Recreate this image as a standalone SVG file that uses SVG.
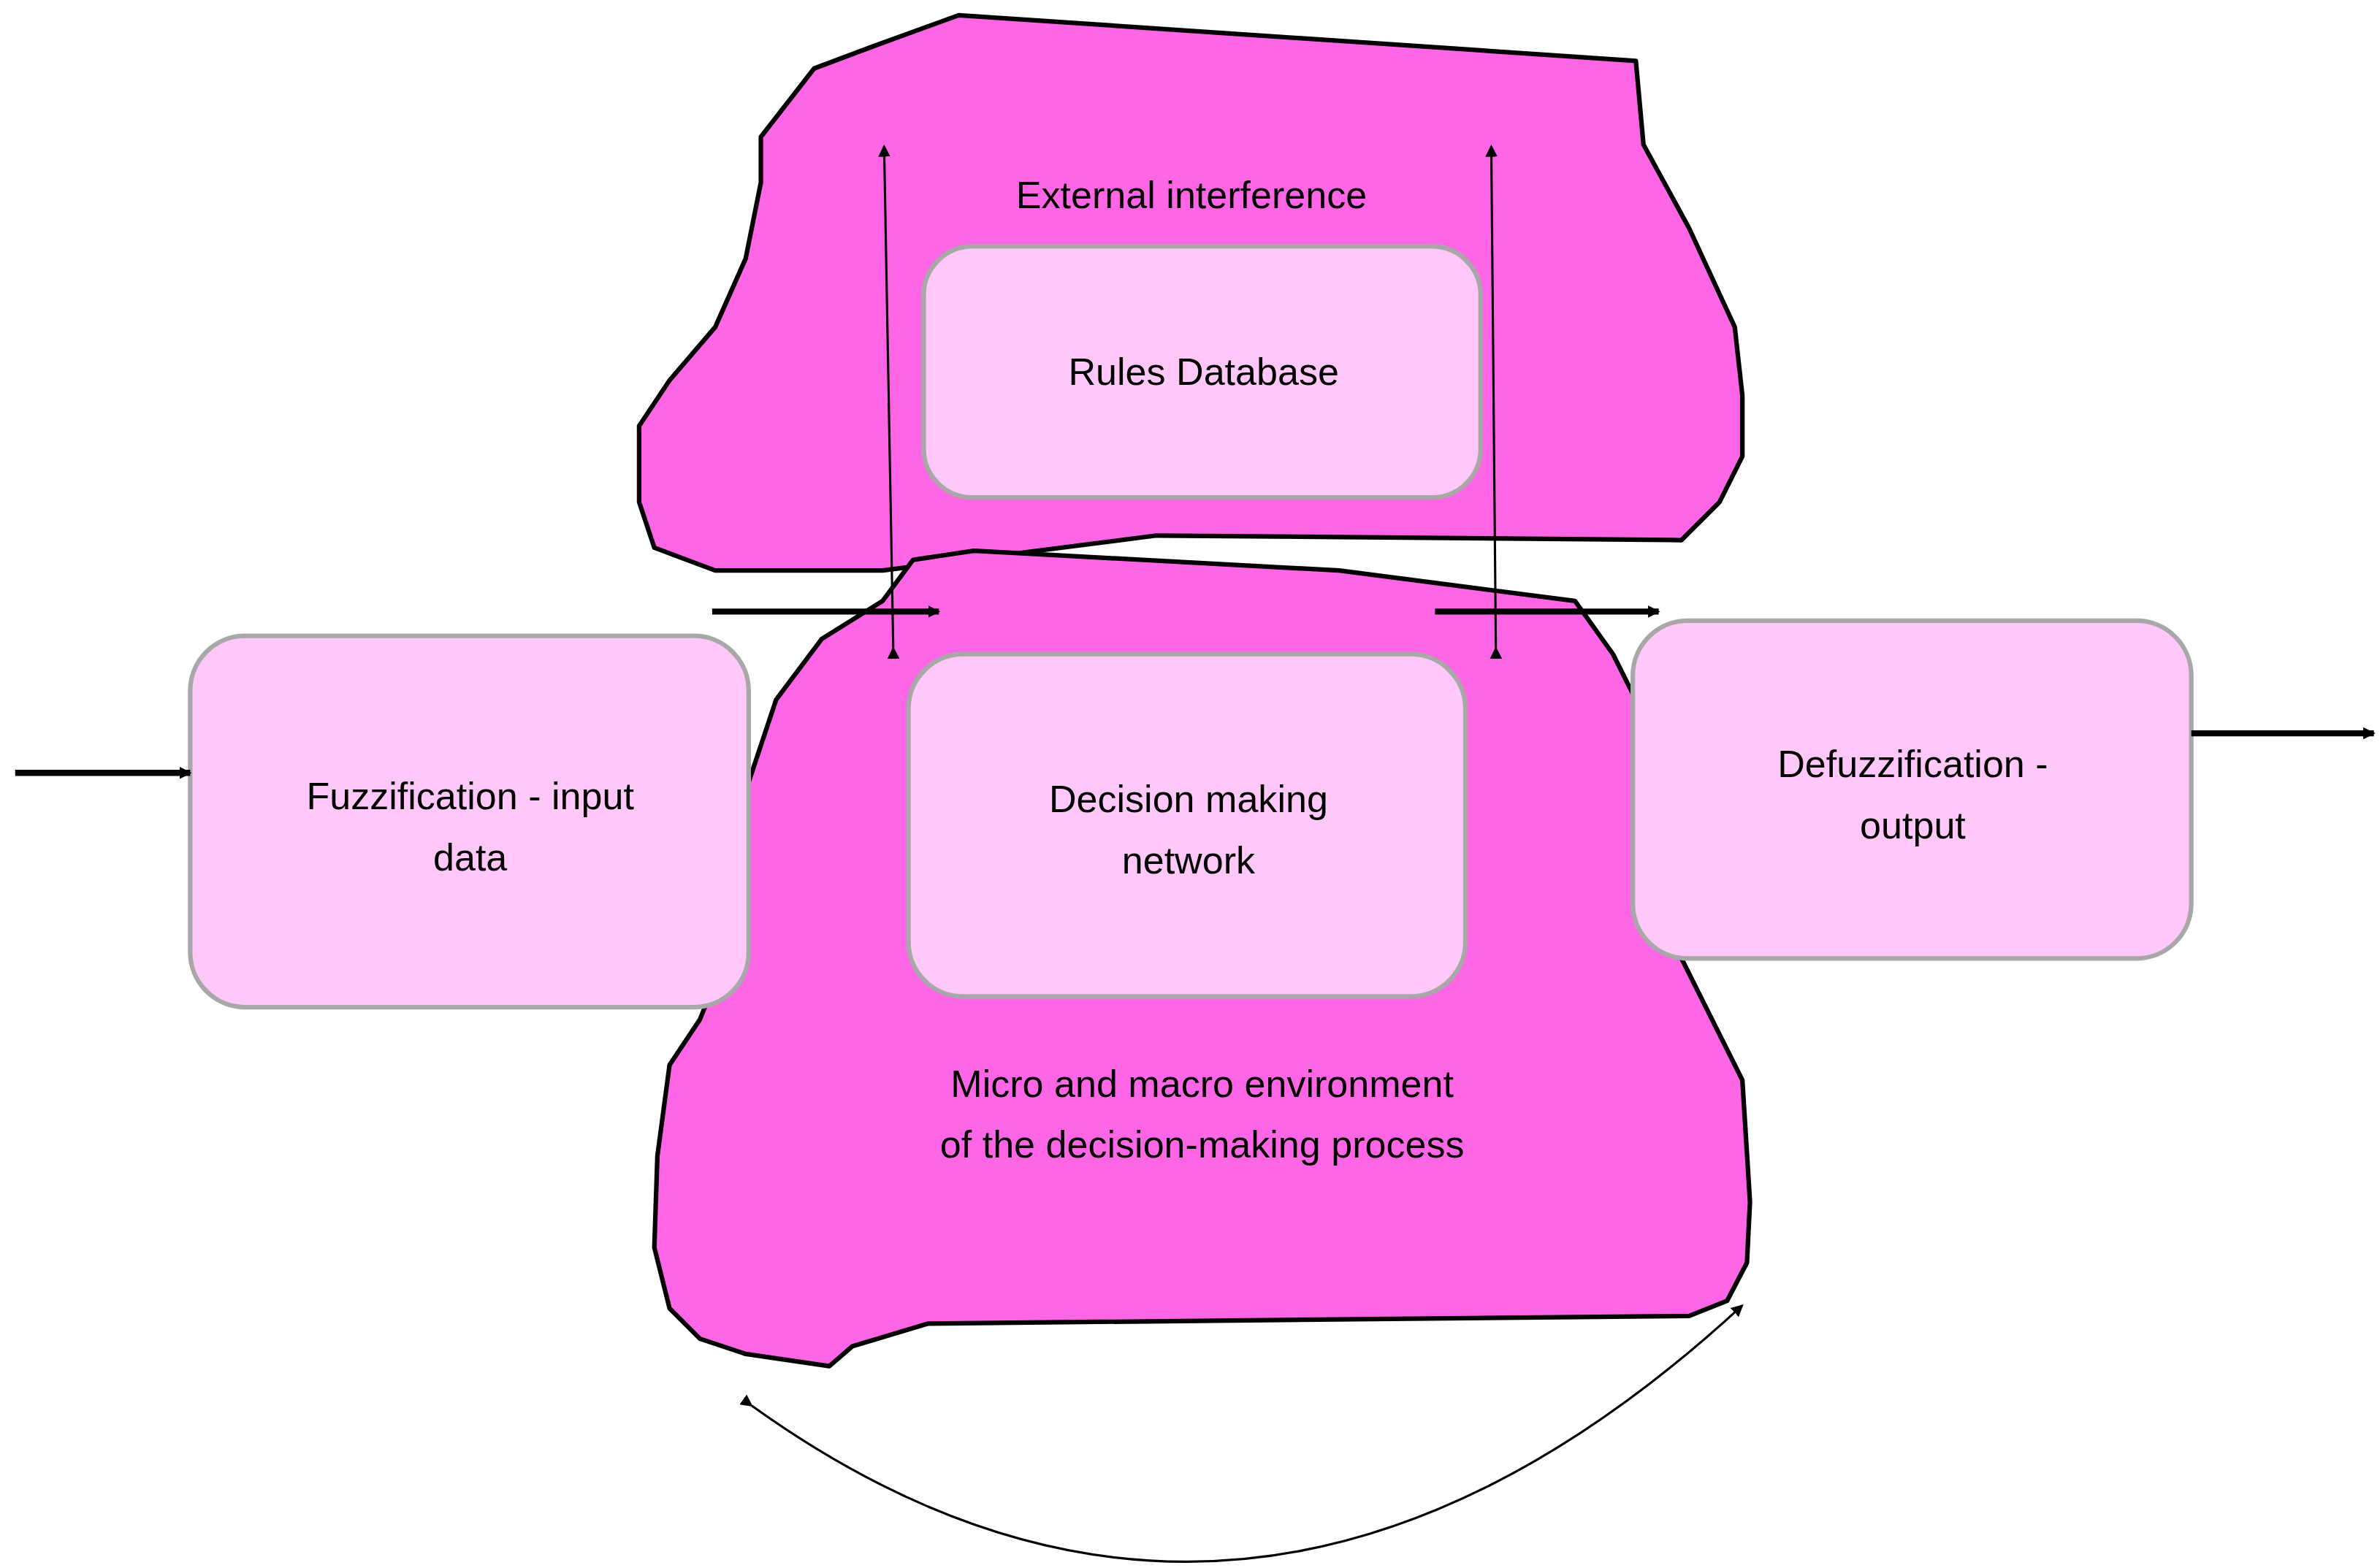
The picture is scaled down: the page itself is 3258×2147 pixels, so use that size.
<svg xmlns="http://www.w3.org/2000/svg" width="3258" height="2147" viewBox="0 0 3258 2147">
<style>
.blob{fill:#ff66e6;stroke:#000;stroke-width:3;stroke-linejoin:round}
.box{fill:#ffc8f8;stroke:#a8a8a8;stroke-width:3}
.t{font-family:"Liberation Sans",Arial,sans-serif;font-size:25px;fill:#000;text-anchor:middle}
.c{stroke:#000;fill:none}
</style>
<defs>
<marker id="ah" markerWidth="8" markerHeight="8" refX="7" refY="4" orient="auto" markerUnits="userSpaceOnUse" viewBox="0 0 8 8"><path d="M0,0L8,4L0,8z" fill="#000"/></marker>
<marker id="ahb" markerWidth="24" markerHeight="22" refX="23" refY="11" orient="auto-start-reverse" markerUnits="userSpaceOnUse"><path d="M0,0L24,11L0,22z" fill="#000"/></marker>
<marker id="ahs" markerWidth="22" markerHeight="20" refX="21" refY="10" orient="auto-start-reverse" markerUnits="userSpaceOnUse"><path d="M0,0L22,10L0,20z" fill="#000"/></marker>
</defs>
<rect width="3258" height="2147" fill="#fff"/>
<g transform="scale(2.0831)">
<g id="blob-top"><path class="blob" d="M500,90 L535,45 L575,30 L630,10 L1075,40 L1080,95 L1110,150 L1140,215 L1145,260 L1145,300 L1130,330 L1105,355 L760,352 L580,375 L470,375 L430,360 L420,330 L420,280 L440,250 L470,215 L490,170 L500,120 Z"/></g>
<g id="blob-bottom"><path class="blob" d="M600,368 L640,362 L880,375 L1035,395 L1060,430 L1080,470 L1090,560 L1100,620 L1120,660 L1145,710 L1150,790 L1148,830 L1135,855 L1110,865 L610,870 L560,885 L545,898 L490,890 L460,880 L440,860 L430,820 L432,760 L440,700 L460,670 L480,620 L490,520 L510,460 L540,420 L580,395 Z"/></g>
<g id="rules"><rect class="box" x="607" y="162" width="366" height="165" rx="32"/><text class="t" x="791" y="253">Rules Database</text></g>
<g id="fuzz"><rect class="box" x="125" y="418" width="367" height="244" rx="36"/><text class="t" x="309" y="532">Fuzzification - input</text><text class="t" x="309" y="572">data</text></g>
<g id="decision"><rect class="box" x="597" y="430" width="366" height="225" rx="36"/><text class="t" x="781" y="534">Decision making</text><text class="t" x="781" y="574">network</text></g>
<g id="defuzz"><rect class="box" x="1073" y="408" width="367" height="222" rx="36"/><text class="t" x="1257" y="511">Defuzzification -</text><text class="t" x="1257" y="551">output</text></g>
<g id="labels"><text class="t" x="783" y="137">External interference</text><text class="t" x="790" y="721">Micro and macro environment</text><text class="t" x="790" y="761">of the decision-making process</text></g>
<g id="connectors">
<line class="c" stroke-width="4" x1="10" y1="508" x2="125" y2="508" marker-end="url(#ah)"/>
<line class="c" stroke-width="4" x1="1440" y1="482" x2="1560" y2="482" marker-end="url(#ah)"/>
<line class="c" stroke-width="4" x1="468" y1="402" x2="617" y2="402" marker-end="url(#ah)"/>
<line class="c" stroke-width="4" x1="943" y1="402" x2="1090" y2="402" marker-end="url(#ah)"/>
<line class="c" stroke-width="1.5" x1="587" y1="426" x2="581" y2="96" marker-start="url(#ah)" marker-end="url(#ah)"/>
<line class="c" stroke-width="1.5" x1="983" y1="426" x2="980" y2="96" marker-start="url(#ah)" marker-end="url(#ah)"/>
<path class="c" stroke-width="1.5" d="M494,924 Q820,1158 1145,858" marker-start="url(#ah)" marker-end="url(#ah)"/>
</g>
</g>
</svg>
